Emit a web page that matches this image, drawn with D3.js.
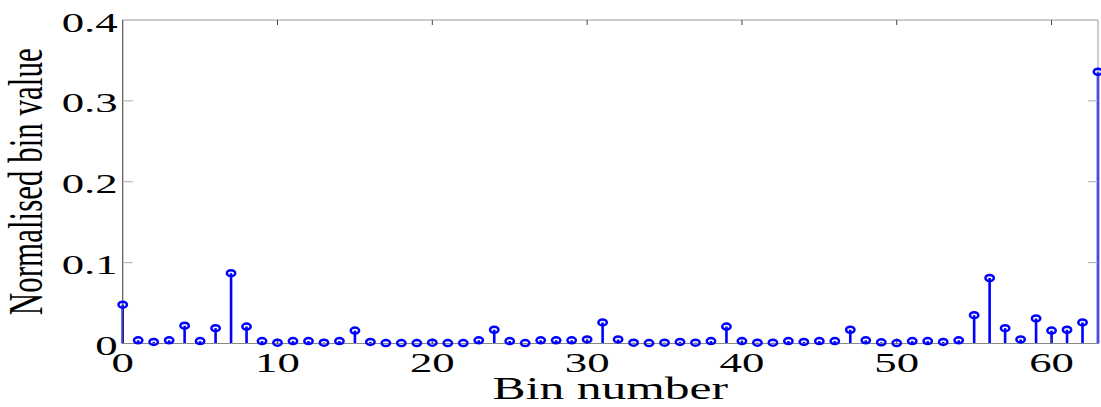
<!DOCTYPE html>
<html>
<head>
<meta charset="utf-8">
<script src="https://cdn.jsdelivr.net/npm/d3@7"></script>
<style>
  body { margin: 0; background: #fff; }
  svg { display: block; }
  text { font-family: "Liberation Serif", "DejaVu Serif", serif; fill: #000; }
</style>
</head>
<body>
<svg></svg>
<script>
// bins 0..63 and their normalised values
let bins = d3.range(0, 64);
let binValues = [
  0.048, 0.004, 0.002, 0.004, 0.022, 0.003, 0.019, 0.087,
  0.021, 0.003, 0.001, 0.003, 0.003, 0.001, 0.003, 0.016,
  0.002, 0.0005, 0.0005, 0.0005, 0.001, 0.0005, 0.0005, 0.004,
  0.017, 0.003, 0.0005, 0.004, 0.004, 0.004, 0.005, 0.026,
  0.005, 0.001, 0.0005, 0.001, 0.002, 0.001, 0.003, 0.021,
  0.003, 0.001, 0.001, 0.003, 0.002, 0.003, 0.003, 0.017,
  0.004, 0.0015, 0.0005, 0.003, 0.003, 0.002, 0.004, 0.035,
  0.081, 0.019, 0.005, 0.031, 0.016, 0.017, 0.026, 0.336
];
let xTicks = [0, 10, 20, 30, 40, 50, 60];
let yTicks = [0, 0.1, 0.2, 0.3, 0.4];
let xTitle = 'Bin number';
let yTitle = 'Normalised bin value';

let w = 1101;
let h = 407;
let padL = 122.7, padR = 1098, padT = 20, padB = 343.5;
let sx = 1.6; // the figure is stretched sideways

let svg = d3.select('svg').attr('width', w).attr('height', h);

let xScale = d3.scaleLinear().domain([0, 63]).range([padL, padR]);
let yScale = d3.scaleLinear().domain([0, 0.4]).range([padB, padT]);

// stems
svg.selectAll('line.stem')
  .data(bins)
  .enter()
  .append('line')
  .attr('class', 'stem')
  .attr('x1', d => xScale(d))
  .attr('x2', d => xScale(d))
  .attr('y1', yScale(0))
  .attr('y2', d => yScale(binValues[d]))
  .attr('stroke', '#0000ff')
  .attr('stroke-width', 2.6);

// box
svg.append('line').attr('x1', padL).attr('x2', padR).attr('y1', padT).attr('y2', padT)
  .attr('stroke', '#999').attr('stroke-width', 1);
svg.append('line').attr('x1', padR).attr('x2', padR).attr('y1', padT).attr('y2', padB)
  .attr('stroke', '#999').attr('stroke-width', 1);
svg.append('line').attr('x1', padL).attr('x2', padR).attr('y1', padB).attr('y2', padB)
  .attr('stroke', '#888').attr('stroke-width', 1.2);
svg.append('line').attr('x1', padL).attr('x2', padL).attr('y1', padT).attr('y2', padB)
  .attr('stroke', '#555').attr('stroke-width', 1.2);

// ticks (inward)
svg.selectAll('line.yt')
  .data(yTicks.slice(1, 4))
  .enter()
  .append('line')
  .attr('class', 'yt')
  .attr('x1', padL).attr('x2', padL + 10)
  .attr('y1', d => yScale(d)).attr('y2', d => yScale(d))
  .attr('stroke', '#aaa').attr('stroke-width', 1);
svg.selectAll('line.yt2')
  .data(yTicks.slice(1, 4))
  .enter()
  .append('line')
  .attr('class', 'yt2')
  .attr('x1', padR - 10).attr('x2', padR)
  .attr('y1', d => yScale(d)).attr('y2', d => yScale(d))
  .attr('stroke', '#aaa').attr('stroke-width', 1);
svg.selectAll('line.xt')
  .data(xTicks.slice(1))
  .enter()
  .append('line')
  .attr('class', 'xt')
  .attr('x1', d => xScale(d)).attr('x2', d => xScale(d))
  .attr('y1', padT).attr('y2', padT + 5)
  .attr('stroke', '#444').attr('stroke-width', 1);
svg.selectAll('line.xb')
  .data(xTicks.slice(1))
  .enter()
  .append('line')
  .attr('class', 'xb')
  .attr('x1', d => xScale(d)).attr('x2', d => xScale(d))
  .attr('y1', padB - 5).attr('y2', padB)
  .attr('stroke', '#444').attr('stroke-width', 1);

// markers
svg.selectAll('ellipse')
  .data(bins)
  .enter()
  .append('ellipse')
  .attr('cx', d => xScale(d))
  .attr('cy', d => yScale(binValues[d]))
  .attr('rx', 4.2)
  .attr('ry', 3)
  .attr('fill', 'none')
  .attr('stroke', '#0000ff')
  .attr('stroke-width', 2.5);

// tick labels
svg.selectAll('text.ylab')
  .data(yTicks)
  .enter()
  .append('text')
  .attr('class', 'ylab')
  .attr('text-anchor', 'end')
  .attr('font-size', 28)
  .attr('transform', d => 'translate(' + (padL - 5) + ',' + (yScale(d) + 11.5) + ') scale(' + sx + ',1)')
  .text(d => d === 0 ? '0' : d3.format('.1f')(d));

svg.selectAll('text.xlab')
  .data(xTicks)
  .enter()
  .append('text')
  .attr('class', 'xlab')
  .attr('text-anchor', 'middle')
  .attr('font-size', 28)
  .attr('transform', d => 'translate(' + xScale(d) + ',372) scale(' + sx + ',1)')
  .text(d => d);

// titles
svg.append('text')
  .attr('text-anchor', 'middle')
  .attr('font-size', 31)
  .attr('transform', 'translate(' + ((padL + padR) / 2) + ',399) scale(' + sx + ',1)')
  .text(xTitle);

svg.append('text')
  .attr('text-anchor', 'middle')
  .attr('font-size', 31)
  .attr('transform', 'translate(42,' + ((padT + padB) / 2) + ') scale(' + sx + ',1) rotate(-90)')
  .text(yTitle);
</script>
</body>
</html>
